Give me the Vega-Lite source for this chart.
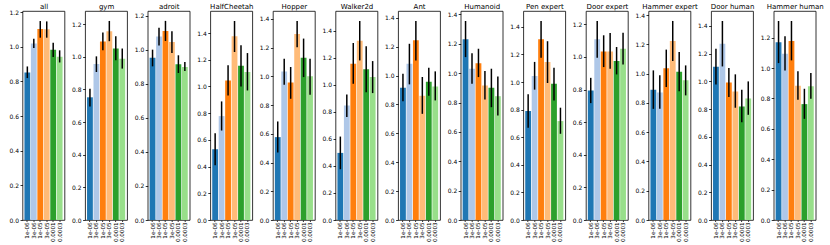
{
"$schema":"https://vega.github.io/schema/vega-lite/v6.json",
"padding":{"left":8.5,"top":1,"right":0,"bottom":0},
"bounds":"flush",
"spacing":20.6,
"datasets":{"d":[
{"t":"all","lr":"1e-06","m":0.851,"lo":0.819,"hi":0.886},
{"t":"all","lr":"3e-06","m":1.019,"lo":0.992,"hi":1.046},
{"t":"all","lr":"1e-05","m":1.102,"lo":1.052,"hi":1.148},
{"t":"all","lr":"3e-05","m":1.10,"lo":1.052,"hi":1.146},
{"t":"all","lr":"0.0001","m":0.982,"lo":0.94,"hi":1.023},
{"t":"all","lr":"0.0003","m":0.942,"lo":0.909,"hi":0.979},
{"t":"gym","lr":"1e-06","m":0.752,"lo":0.696,"hi":0.805},
{"t":"gym","lr":"3e-06","m":0.956,"lo":0.907,"hi":1.003},
{"t":"gym","lr":"1e-05","m":1.094,"lo":1.04,"hi":1.149},
{"t":"gym","lr":"3e-05","m":1.157,"lo":1.096,"hi":1.22},
{"t":"gym","lr":"0.0001","m":1.051,"lo":0.979,"hi":1.126},
{"t":"gym","lr":"0.0003","m":0.989,"lo":0.928,"hi":1.051},
{"t":"adroit","lr":"1e-06","m":0.953,"lo":0.902,"hi":1.0},
{"t":"adroit","lr":"3e-06","m":1.078,"lo":1.025,"hi":1.129},
{"t":"adroit","lr":"1e-05","m":1.11,"lo":1.051,"hi":1.169},
{"t":"adroit","lr":"3e-05","m":1.045,"lo":0.98,"hi":1.108},
{"t":"adroit","lr":"0.0001","m":0.914,"lo":0.863,"hi":0.967},
{"t":"adroit","lr":"0.0003","m":0.898,"lo":0.875,"hi":0.927},
{"t":"HalfCheetah","lr":"1e-06","m":0.53,"lo":0.41,"hi":0.65},
{"t":"HalfCheetah","lr":"3e-06","m":0.778,"lo":0.67,"hi":0.888},
{"t":"HalfCheetah","lr":"1e-05","m":1.045,"lo":0.933,"hi":1.158},
{"t":"HalfCheetah","lr":"3e-05","m":1.375,"lo":1.258,"hi":1.49},
{"t":"HalfCheetah","lr":"0.0001","m":1.155,"lo":1.0,"hi":1.308},
{"t":"HalfCheetah","lr":"0.0003","m":1.108,"lo":0.97,"hi":1.25},
{"t":"Hopper","lr":"1e-06","m":0.577,"lo":0.47,"hi":0.686},
{"t":"Hopper","lr":"3e-06","m":1.033,"lo":0.942,"hi":1.123},
{"t":"Hopper","lr":"1e-05","m":0.958,"lo":0.844,"hi":1.065},
{"t":"Hopper","lr":"3e-05","m":1.295,"lo":1.202,"hi":1.386},
{"t":"Hopper","lr":"0.0001","m":1.13,"lo":0.995,"hi":1.263},
{"t":"Hopper","lr":"0.0003","m":1.0,"lo":0.872,"hi":1.123},
{"t":"Walker2d","lr":"1e-06","m":0.497,"lo":0.376,"hi":0.618},
{"t":"Walker2d","lr":"3e-06","m":0.848,"lo":0.762,"hi":0.93},
{"t":"Walker2d","lr":"1e-05","m":1.158,"lo":1.009,"hi":1.311},
{"t":"Walker2d","lr":"3e-05","m":1.328,"lo":1.182,"hi":1.474},
{"t":"Walker2d","lr":"0.0001","m":1.116,"lo":0.947,"hi":1.286},
{"t":"Walker2d","lr":"0.0003","m":1.059,"lo":0.94,"hi":1.177},
{"t":"Ant","lr":"1e-06","m":0.916,"lo":0.823,"hi":1.013},
{"t":"Ant","lr":"3e-06","m":1.082,"lo":0.939,"hi":1.22},
{"t":"Ant","lr":"1e-05","m":1.244,"lo":1.105,"hi":1.378},
{"t":"Ant","lr":"3e-05","m":0.86,"lo":0.735,"hi":0.99},
{"t":"Ant","lr":"0.0001","m":0.957,"lo":0.86,"hi":1.054},
{"t":"Ant","lr":"0.0003","m":0.925,"lo":0.828,"hi":1.029},
{"t":"Humanoid","lr":"1e-06","m":1.23,"lo":1.109,"hi":1.355},
{"t":"Humanoid","lr":"3e-06","m":1.03,"lo":0.927,"hi":1.136},
{"t":"Humanoid","lr":"1e-05","m":1.068,"lo":0.973,"hi":1.166},
{"t":"Humanoid","lr":"3e-05","m":0.916,"lo":0.82,"hi":1.014},
{"t":"Humanoid","lr":"0.0001","m":0.9,"lo":0.768,"hi":1.03},
{"t":"Humanoid","lr":"0.0003","m":0.843,"lo":0.711,"hi":0.977},
{"t":"Pen expert","lr":"1e-06","m":0.79,"lo":0.668,"hi":0.911},
{"t":"Pen expert","lr":"3e-06","m":1.044,"lo":0.945,"hi":1.146},
{"t":"Pen expert","lr":"1e-05","m":1.31,"lo":1.177,"hi":1.443},
{"t":"Pen expert","lr":"3e-05","m":1.146,"lo":0.993,"hi":1.296},
{"t":"Pen expert","lr":"0.0001","m":0.988,"lo":0.867,"hi":1.104},
{"t":"Pen expert","lr":"0.0003","m":0.717,"lo":0.625,"hi":0.814},
{"t":"Door expert","lr":"1e-06","m":0.795,"lo":0.717,"hi":0.872},
{"t":"Door expert","lr":"3e-06","m":1.108,"lo":0.995,"hi":1.221},
{"t":"Door expert","lr":"1e-05","m":1.034,"lo":0.938,"hi":1.133},
{"t":"Door expert","lr":"3e-05","m":1.034,"lo":0.928,"hi":1.147},
{"t":"Door expert","lr":"0.0001","m":0.975,"lo":0.893,"hi":1.061},
{"t":"Door expert","lr":"0.0003","m":1.051,"lo":0.954,"hi":1.149},
{"t":"Hammer expert","lr":"1e-06","m":0.891,"lo":0.76,"hi":1.023},
{"t":"Hammer expert","lr":"3e-06","m":0.872,"lo":0.76,"hi":0.989},
{"t":"Hammer expert","lr":"1e-05","m":1.037,"lo":0.909,"hi":1.165},
{"t":"Hammer expert","lr":"3e-05","m":1.224,"lo":1.087,"hi":1.361},
{"t":"Hammer expert","lr":"0.0001","m":1.014,"lo":0.881,"hi":1.149},
{"t":"Hammer expert","lr":"0.0003","m":0.955,"lo":0.852,"hi":1.057},
{"t":"Door human","lr":"1e-06","m":1.106,"lo":0.978,"hi":1.236},
{"t":"Door human","lr":"3e-06","m":1.272,"lo":1.108,"hi":1.436},
{"t":"Door human","lr":"1e-05","m":0.993,"lo":0.887,"hi":1.096},
{"t":"Door human","lr":"3e-05","m":0.928,"lo":0.81,"hi":1.051},
{"t":"Door human","lr":"0.0001","m":0.819,"lo":0.706,"hi":0.94},
{"t":"Door human","lr":"0.0003","m":0.877,"lo":0.759,"hi":1.0},
{"t":"Hammer human","lr":"1e-06","m":1.171,"lo":1.033,"hi":1.31},
{"t":"Hammer human","lr":"3e-06","m":1.095,"lo":0.985,"hi":1.209},
{"t":"Hammer human","lr":"1e-05","m":1.178,"lo":1.051,"hi":1.31},
{"t":"Hammer human","lr":"3e-05","m":0.884,"lo":0.791,"hi":0.98},
{"t":"Hammer human","lr":"0.0001","m":0.763,"lo":0.666,"hi":0.864},
{"t":"Hammer human","lr":"0.0003","m":0.881,"lo":0.798,"hi":0.967}
]},
"data":{"name":"d"},
"hconcat":[
{"transform":[{"filter":"datum.t === 'all'"}],"width":42,"height":209,"resolve":{"axis":{"x":"independent"}},
 "layer":[{"mark":"bar","encoding":{"x":{"field":"lr","type":"nominal","title":null,"sort":["1e-06","3e-06","1e-05","3e-05","0.0001","0.0003"],"scale":{"paddingInner":0.1,"paddingOuter":0.3}},"y":{"field":"m","type":"quantitative","title":null,"scale":{"domain":[0,1.206],"nice":false}},"color":{"field":"lr","type":"nominal","legend":null,"sort":["1e-06","3e-06","1e-05","3e-05","0.0001","0.0003"],"scale":{"domain":["1e-06","3e-06","1e-05","3e-05","0.0001","0.0003"],"range":["#1f77b4","#aec7e8","#ff7f0e","#ffbb78","#2ca02c","#98df8a"]}}}},
  {"mark":{"type":"rule","color":"black","strokeWidth":1.5},"encoding":{"x":{"field":"lr","type":"nominal","sort":["1e-06","3e-06","1e-05","3e-05","0.0001","0.0003"],"axis":{"orient":"top","title":"all"}},"y":{"field":"lo","type":"quantitative"},"y2":{"field":"hi"}}}]},
{"transform":[{"filter":"datum.t === 'gym'"}],"width":42,"height":209,"resolve":{"axis":{"x":"independent"}},
 "layer":[{"mark":"bar","encoding":{"x":{"field":"lr","type":"nominal","title":null,"sort":["1e-06","3e-06","1e-05","3e-05","0.0001","0.0003"],"scale":{"paddingInner":0.1,"paddingOuter":0.3}},"y":{"field":"m","type":"quantitative","title":null,"scale":{"domain":[0,1.281],"nice":false}},"color":{"field":"lr","type":"nominal","legend":null}}},
  {"mark":{"type":"rule","color":"black","strokeWidth":1.5},"encoding":{"x":{"field":"lr","type":"nominal","sort":["1e-06","3e-06","1e-05","3e-05","0.0001","0.0003"],"axis":{"orient":"top","title":"gym"}},"y":{"field":"lo","type":"quantitative"},"y2":{"field":"hi"}}}]},
{"transform":[{"filter":"datum.t === 'adroit'"}],"width":42,"height":209,"resolve":{"axis":{"x":"independent"}},
 "layer":[{"mark":"bar","encoding":{"x":{"field":"lr","type":"nominal","title":null,"sort":["1e-06","3e-06","1e-05","3e-05","0.0001","0.0003"],"scale":{"paddingInner":0.1,"paddingOuter":0.3}},"y":{"field":"m","type":"quantitative","title":null,"scale":{"domain":[0,1.227],"nice":false}},"color":{"field":"lr","type":"nominal","legend":null}}},
  {"mark":{"type":"rule","color":"black","strokeWidth":1.5},"encoding":{"x":{"field":"lr","type":"nominal","sort":["1e-06","3e-06","1e-05","3e-05","0.0001","0.0003"],"axis":{"orient":"top","title":"adroit"}},"y":{"field":"lo","type":"quantitative"},"y2":{"field":"hi"}}}]},
{"transform":[{"filter":"datum.t === 'HalfCheetah'"}],"width":42,"height":209,"resolve":{"axis":{"x":"independent"}},
 "layer":[{"mark":"bar","encoding":{"x":{"field":"lr","type":"nominal","title":null,"sort":["1e-06","3e-06","1e-05","3e-05","0.0001","0.0003"],"scale":{"paddingInner":0.1,"paddingOuter":0.3}},"y":{"field":"m","type":"quantitative","title":null,"scale":{"domain":[0,1.565],"nice":false}},"color":{"field":"lr","type":"nominal","legend":null}}},
  {"mark":{"type":"rule","color":"black","strokeWidth":1.5},"encoding":{"x":{"field":"lr","type":"nominal","sort":["1e-06","3e-06","1e-05","3e-05","0.0001","0.0003"],"axis":{"orient":"top","title":"HalfCheetah"}},"y":{"field":"lo","type":"quantitative"},"y2":{"field":"hi"}}}]},
{"transform":[{"filter":"datum.t === 'Hopper'"}],"width":42,"height":209,"resolve":{"axis":{"x":"independent"}},
 "layer":[{"mark":"bar","encoding":{"x":{"field":"lr","type":"nominal","title":null,"sort":["1e-06","3e-06","1e-05","3e-05","0.0001","0.0003"],"scale":{"paddingInner":0.1,"paddingOuter":0.3}},"y":{"field":"m","type":"quantitative","title":null,"scale":{"domain":[0,1.455],"nice":false}},"color":{"field":"lr","type":"nominal","legend":null}}},
  {"mark":{"type":"rule","color":"black","strokeWidth":1.5},"encoding":{"x":{"field":"lr","type":"nominal","sort":["1e-06","3e-06","1e-05","3e-05","0.0001","0.0003"],"axis":{"orient":"top","title":"Hopper"}},"y":{"field":"lo","type":"quantitative"},"y2":{"field":"hi"}}}]},
{"transform":[{"filter":"datum.t === 'Walker2d'"}],"width":42,"height":209,"resolve":{"axis":{"x":"independent"}},
 "layer":[{"mark":"bar","encoding":{"x":{"field":"lr","type":"nominal","title":null,"sort":["1e-06","3e-06","1e-05","3e-05","0.0001","0.0003"],"scale":{"paddingInner":0.1,"paddingOuter":0.3}},"y":{"field":"m","type":"quantitative","title":null,"scale":{"domain":[0,1.548],"nice":false}},"color":{"field":"lr","type":"nominal","legend":null}}},
  {"mark":{"type":"rule","color":"black","strokeWidth":1.5},"encoding":{"x":{"field":"lr","type":"nominal","sort":["1e-06","3e-06","1e-05","3e-05","0.0001","0.0003"],"axis":{"orient":"top","title":"Walker2d"}},"y":{"field":"lo","type":"quantitative"},"y2":{"field":"hi"}}}]},
{"transform":[{"filter":"datum.t === 'Ant'"}],"width":42,"height":209,"resolve":{"axis":{"x":"independent"}},
 "layer":[{"mark":"bar","encoding":{"x":{"field":"lr","type":"nominal","title":null,"sort":["1e-06","3e-06","1e-05","3e-05","0.0001","0.0003"],"scale":{"paddingInner":0.1,"paddingOuter":0.3}},"y":{"field":"m","type":"quantitative","title":null,"scale":{"domain":[0,1.447],"nice":false}},"color":{"field":"lr","type":"nominal","legend":null}}},
  {"mark":{"type":"rule","color":"black","strokeWidth":1.5},"encoding":{"x":{"field":"lr","type":"nominal","sort":["1e-06","3e-06","1e-05","3e-05","0.0001","0.0003"],"axis":{"orient":"top","title":"Ant"}},"y":{"field":"lo","type":"quantitative"},"y2":{"field":"hi"}}}]},
{"transform":[{"filter":"datum.t === 'Humanoid'"}],"width":42,"height":209,"resolve":{"axis":{"x":"independent"}},
 "layer":[{"mark":"bar","encoding":{"x":{"field":"lr","type":"nominal","title":null,"sort":["1e-06","3e-06","1e-05","3e-05","0.0001","0.0003"],"scale":{"paddingInner":0.1,"paddingOuter":0.3}},"y":{"field":"m","type":"quantitative","title":null,"scale":{"domain":[0,1.423],"nice":false}},"color":{"field":"lr","type":"nominal","legend":null}}},
  {"mark":{"type":"rule","color":"black","strokeWidth":1.5},"encoding":{"x":{"field":"lr","type":"nominal","sort":["1e-06","3e-06","1e-05","3e-05","0.0001","0.0003"],"axis":{"orient":"top","title":"Humanoid"}},"y":{"field":"lo","type":"quantitative"},"y2":{"field":"hi"}}}]},
{"transform":[{"filter":"datum.t === 'Pen expert'"}],"width":42,"height":209,"resolve":{"axis":{"x":"independent"}},
 "layer":[{"mark":"bar","encoding":{"x":{"field":"lr","type":"nominal","title":null,"sort":["1e-06","3e-06","1e-05","3e-05","0.0001","0.0003"],"scale":{"paddingInner":0.1,"paddingOuter":0.3}},"y":{"field":"m","type":"quantitative","title":null,"scale":{"domain":[0,1.515],"nice":false}},"color":{"field":"lr","type":"nominal","legend":null}}},
  {"mark":{"type":"rule","color":"black","strokeWidth":1.5},"encoding":{"x":{"field":"lr","type":"nominal","sort":["1e-06","3e-06","1e-05","3e-05","0.0001","0.0003"],"axis":{"orient":"top","title":"Pen expert"}},"y":{"field":"lo","type":"quantitative"},"y2":{"field":"hi"}}}]},
{"transform":[{"filter":"datum.t === 'Door expert'"}],"width":42,"height":209,"resolve":{"axis":{"x":"independent"}},
 "layer":[{"mark":"bar","encoding":{"x":{"field":"lr","type":"nominal","title":null,"sort":["1e-06","3e-06","1e-05","3e-05","0.0001","0.0003"],"scale":{"paddingInner":0.1,"paddingOuter":0.3}},"y":{"field":"m","type":"quantitative","title":null,"scale":{"domain":[0,1.282],"nice":false}},"color":{"field":"lr","type":"nominal","legend":null}}},
  {"mark":{"type":"rule","color":"black","strokeWidth":1.5},"encoding":{"x":{"field":"lr","type":"nominal","sort":["1e-06","3e-06","1e-05","3e-05","0.0001","0.0003"],"axis":{"orient":"top","title":"Door expert"}},"y":{"field":"lo","type":"quantitative"},"y2":{"field":"hi"}}}]},
{"transform":[{"filter":"datum.t === 'Hammer expert'"}],"width":42,"height":209,"resolve":{"axis":{"x":"independent"}},
 "layer":[{"mark":"bar","encoding":{"x":{"field":"lr","type":"nominal","title":null,"sort":["1e-06","3e-06","1e-05","3e-05","0.0001","0.0003"],"scale":{"paddingInner":0.1,"paddingOuter":0.3}},"y":{"field":"m","type":"quantitative","title":null,"scale":{"domain":[0,1.429],"nice":false}},"color":{"field":"lr","type":"nominal","legend":null}}},
  {"mark":{"type":"rule","color":"black","strokeWidth":1.5},"encoding":{"x":{"field":"lr","type":"nominal","sort":["1e-06","3e-06","1e-05","3e-05","0.0001","0.0003"],"axis":{"orient":"top","title":"Hammer expert"}},"y":{"field":"lo","type":"quantitative"},"y2":{"field":"hi"}}}]},
{"transform":[{"filter":"datum.t === 'Door human'"}],"width":42,"height":209,"resolve":{"axis":{"x":"independent"}},
 "layer":[{"mark":"bar","encoding":{"x":{"field":"lr","type":"nominal","title":null,"sort":["1e-06","3e-06","1e-05","3e-05","0.0001","0.0003"],"scale":{"paddingInner":0.1,"paddingOuter":0.3}},"y":{"field":"m","type":"quantitative","title":null,"scale":{"domain":[0,1.508],"nice":false}},"color":{"field":"lr","type":"nominal","legend":null}}},
  {"mark":{"type":"rule","color":"black","strokeWidth":1.5},"encoding":{"x":{"field":"lr","type":"nominal","sort":["1e-06","3e-06","1e-05","3e-05","0.0001","0.0003"],"axis":{"orient":"top","title":"Door human"}},"y":{"field":"lo","type":"quantitative"},"y2":{"field":"hi"}}}]},
{"transform":[{"filter":"datum.t === 'Hammer human'"}],"width":42,"height":209,"resolve":{"axis":{"x":"independent"}},
 "layer":[{"mark":"bar","encoding":{"x":{"field":"lr","type":"nominal","title":null,"sort":["1e-06","3e-06","1e-05","3e-05","0.0001","0.0003"],"scale":{"paddingInner":0.1,"paddingOuter":0.3}},"y":{"field":"m","type":"quantitative","title":null,"scale":{"domain":[0,1.376],"nice":false}},"color":{"field":"lr","type":"nominal","legend":null}}},
  {"mark":{"type":"rule","color":"black","strokeWidth":1.5},"encoding":{"x":{"field":"lr","type":"nominal","sort":["1e-06","3e-06","1e-05","3e-05","0.0001","0.0003"],"axis":{"orient":"top","title":"Hammer human"}},"y":{"field":"lo","type":"quantitative"},"y2":{"field":"hi"}}}]}
],
"config":{
 "font":"DejaVu Sans",
 "view":{"stroke":"black","strokeWidth":0.8},
 "axis":{"domain":false,"grid":false,"labelFontSize":6,"labelColor":"black","tickColor":"black","tickSize":2.5,"tickWidth":0.8,"labelPadding":1.5},
 "axisX":{"labelAngle":-90,"labelFontSize":5.6,"tickSize":1.5,"labelPadding":0.5},
 "axisTop":{"labels":false,"ticks":false,"domain":false,"titleFontSize":7,"titleFontWeight":"normal","titleColor":"black","titlePadding":2},
 "axisY":{"format":".1f","tickCount":7}
}
}
